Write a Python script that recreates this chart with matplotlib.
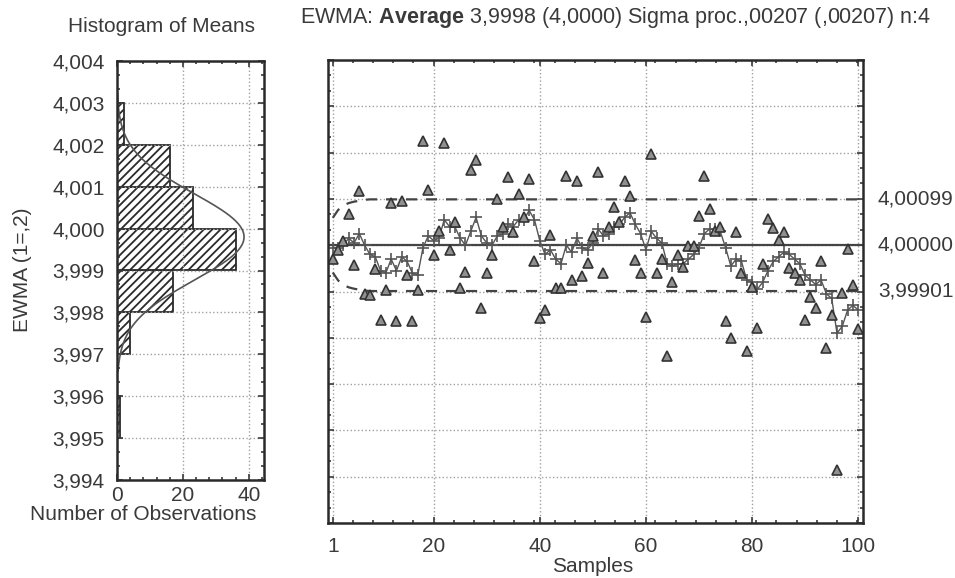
import numpy as np
import matplotlib
matplotlib.use("Agg")
import matplotlib.pyplot as plt
from matplotlib.ticker import AutoMinorLocator, FuncFormatter

plt.rcParams['font.family'] = ['Liberation Sans', 'DejaVu Sans']
plt.rcParams['mathtext.fontset'] = 'custom'
plt.rcParams['mathtext.rm'] = 'Liberation Sans'
plt.rcParams['mathtext.bf'] = 'Liberation Sans:bold'
plt.rcParams['hatch.linewidth'] = 1.3

ink = '#3a3a3a'
fs = 15

# deviations from 4 in thousandths
means_dev = [-0.30, -0.10, 0.10, 0.67, -0.42, 1.17, -1.05, -1.08, -0.51, -1.61,
             -0.97, 0.92, -1.64, 0.95, -0.65, -1.64, -0.97, 2.24, 1.20, -0.22,
             0.30, 2.20, -0.11, 0.50, -0.92, -0.58, 1.63, 1.84, -1.36, -0.61,
             -0.22, 0.99, 0.40, 1.47, 0.28, 1.10, 0.60, 1.43, -0.35, -1.58,
             -1.40, 0.21, -0.93, -0.93, 1.49, -0.76, 1.38, -0.66, -0.38, 0.20,
             1.59, -0.59, 0.40, 0.83, 0.50, 1.38, 1.07, -0.31, -0.59, -1.56,
             1.97, -0.59, -0.30, -2.39, -0.79, -0.22, -0.47, -0.02, -0.02, 0.63,
             1.50, 0.79, 0.30, 0.40, -1.63, -2.00, 0.28, -0.60, -2.29, -0.90,
             -1.79, -0.40, 0.56, 0.38, 0.12, 0.28, -0.49, -0.60, -0.75, -1.61,
             -1.11, -1.36, -0.35, -2.23, -1.50, -4.86, -1.04, -0.08, -0.85, -1.82]

ewma_dev = [-0.05, -0.05, 0.00, 0.15, 0.05, 0.25, 0.00, -0.20, -0.25, -0.55,
            -0.60, -0.30, -0.55, -0.25, -0.35, -0.60, -0.65, -0.05, 0.20, 0.10,
            0.15, 0.55, 0.40, 0.40, 0.15, 0.00, 0.30, 0.60, 0.20, 0.05,
            0.00, 0.20, 0.25, 0.45, 0.40, 0.55, 0.55, 0.75, 0.55, 0.10,
            -0.20, -0.10, -0.30, -0.40, 0.00, -0.15, 0.15, -0.05, -0.10, 0.05,
            0.35, 0.20, 0.25, 0.40, 0.45, 0.60, 0.70, 0.45, 0.25, -0.10,
            0.30, 0.15, 0.05, -0.40, -0.45, -0.40, -0.40, -0.30, -0.20, -0.05,
            0.25, 0.35, 0.35, 0.30, -0.05, -0.45, -0.30, -0.35, -0.75, -0.80,
            -0.95, -0.80, -0.55, -0.35, -0.25, -0.15, -0.20, -0.30, -0.40, -0.65,
            -0.75, -0.85, -0.75, -1.05, -1.15, -1.90, -1.75, -1.40, -1.30, -1.40]

# control limit half-width, widening over the first samples
limit_head = [0.59, 0.76, 0.86, 0.91, 0.94, 0.96, 0.98]
limit_rest = 0.99

center = 4.0
ucl_label = '4,00099'
cl_label = '4,00000'
lcl_label = '3,99901'

hist_edges = [3.995, 3.996, 3.997, 3.998, 3.999, 4.000, 4.001, 4.002, 4.003]
hist_counts = [1, 0, 4, 17, 36, 23, 16, 2]

avg_mean = 3.9998
sigma_proc = 0.00207
n_sub = 4

samples = np.arange(1, len(means_dev) + 1)
means = center + np.array(means_dev) / 1000
ewma = center + np.array(ewma_dev) / 1000
half = np.array(limit_head + [limit_rest] * (len(samples) - len(limit_head))) / 1000

fig = plt.figure(figsize=(9.55, 5.78), dpi=100)
W, H = 955, 578

def box(l, t, r, b):
    return [l / W, 1 - b / H, (r - l) / W, (b - t) / H]

comma = FuncFormatter(lambda v, p: ('%.3f' % v).replace('.', ','))

# histogram
axh = fig.add_axes(box(117, 61, 264, 480))
axh.barh(hist_edges[:-1], hist_counts, height=0.001, align='edge',
         color='white', edgecolor='#2a2a2a', hatch='////', linewidth=1.3)
yy = np.linspace(3.9966, 4.0032, 200)
sd = sigma_proc / np.sqrt(n_sub)
curve = 100 * 0.001 * np.exp(-0.5 * ((yy - avg_mean) / sd) ** 2) / (sd * np.sqrt(2 * np.pi))
axh.plot(curve, yy, color='#555555', lw=1.2)
axh.set_xlim(0, 44.6)
axh.set_ylim(3.994, 4.004)
axh.set_xticks([0, 20, 40])
axh.set_yticks(np.arange(3.994, 4.0045, 0.001))
axh.yaxis.set_major_formatter(comma)
axh.grid(True, ls=':', color='#a0a0a0', lw=1)
axh.xaxis.set_minor_locator(AutoMinorLocator(5))
axh.yaxis.set_minor_locator(AutoMinorLocator(3))
axh.tick_params(which='both', direction='in', top=True, right=True, colors=ink,
                labelsize=fs, width=1.2)
axh.tick_params(axis='y', pad=9)
axh.tick_params(axis='x', pad=4)
axh.tick_params(which='major', length=4)
axh.tick_params(which='minor', length=2.5)

# main EWMA chart
ax = fig.add_axes(box(328, 60, 863, 523))
ax.plot(samples, center + half, color='#444444', lw=1.6, ls=(0, (5, 4)))
ax.plot(samples, center - half, color='#444444', lw=1.6, ls=(0, (5, 4)))
ax.axhline(center, color='#444444', lw=1.6)
ax.plot(samples, ewma, color='#555555', lw=1.0, marker='+', ms=8, mew=1.2)
ax.plot(samples, means, ls='none', marker='^', ms=7, mfc='#909090',
        mec='#333333', mew=1.2)
ax.set_xlim(0.1, 100.9)
ax.set_ylim(3.994, 4.004)
ax.set_xticks([1, 20, 40, 60, 80, 100])
ax.set_yticks(np.arange(3.994, 4.0045, 0.001))
ax.set_yticklabels([])
ax.grid(True, ls=':', color='#a0a0a0', lw=1)
ax.xaxis.set_minor_locator(AutoMinorLocator(5))
ax.yaxis.set_minor_locator(AutoMinorLocator(3))
ax.tick_params(which='both', direction='in', top=True, right=True, colors=ink,
               labelsize=fs, width=1.2)
ax.tick_params(axis='x', pad=10)
ax.tick_params(which='major', length=4)
ax.tick_params(which='minor', length=2.5)

for a in (ax, axh):
    for s in a.spines.values():
        s.set_linewidth(1.8)
        s.set_color('#2a2a2a')

for lab, val in [(ucl_label, center + limit_rest / 1000), (cl_label, center),
                 (lcl_label, center - limit_rest / 1000)]:
    ax.text(1.028, val, lab, transform=ax.get_yaxis_transform(), fontsize=fs,
            color=ink, ha='left', va='center', clip_on=False)

fig.text(161 / W, 1 - 26 / H, 'Histogram of Means', fontsize=fs, color=ink,
         ha='center', va='center')
fig.text(616 / W, 1 - 18 / H,
         r'EWMA: $\mathbf{Average}$ 3,9998 (4,0000) Sigma proc.,00207 (,00207) n:4',
         fontsize=15.5, color=ink, ha='center', va='center')
fig.text(22 / W, 1 - 270 / H, 'EWMA (1=,2)', fontsize=fs, color=ink,
         rotation=90, ha='center', va='center')
fig.text(143 / W, 1 - 514 / H, 'Number of Observations', fontsize=fs,
         color=ink, ha='center', va='center')
fig.text(593 / W, 1 - 566 / H, 'Samples', fontsize=fs, color=ink,
         ha='center', va='center')

fig.savefig('out.png', dpi=100, facecolor='white')
